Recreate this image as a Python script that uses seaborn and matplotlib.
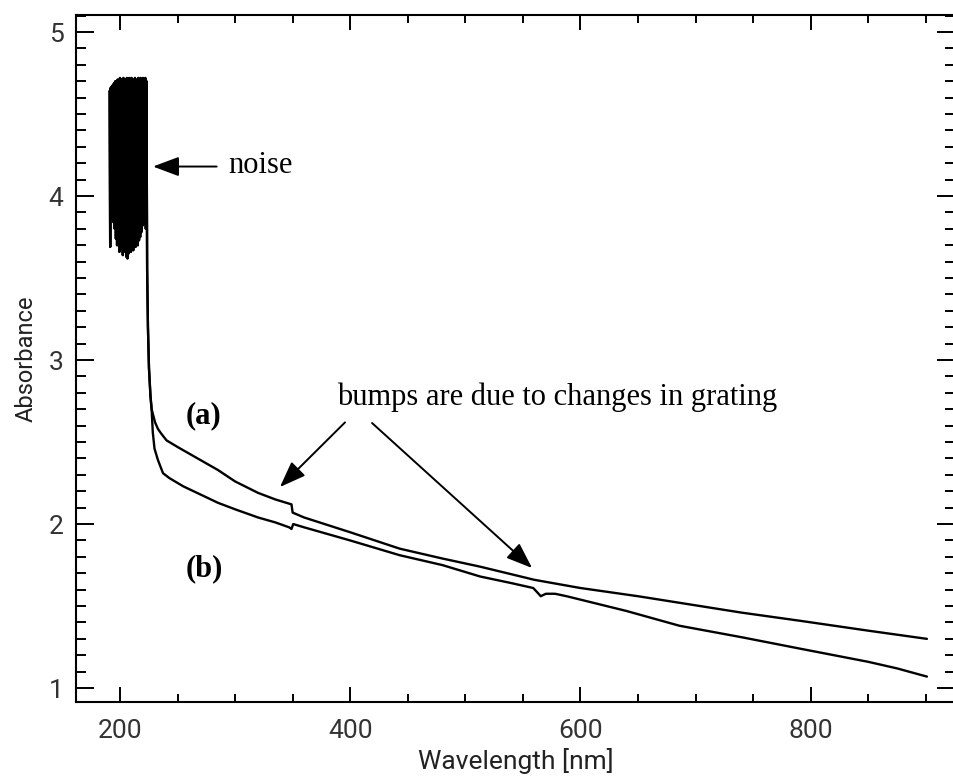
import numpy as np
import pandas as pd
import matplotlib
matplotlib.use("Agg")
import matplotlib.pyplot as plt
import seaborn as sns
from matplotlib.ticker import MultipleLocator, FixedLocator

# ---------------- data ----------------
noise_wl = [191.0, 191.5, 192.0, 192.5, 193.0, 193.5, 194.0, 194.5, 195.0, 195.5,
            196.0, 196.5, 197.0, 197.5, 198.0, 198.5, 199.0, 199.5, 200.0, 200.5,
            201.0, 201.5, 202.0, 202.5, 203.0, 203.5, 204.0, 204.5, 205.0, 205.5,
            206.0, 206.5, 207.0, 207.5, 208.0, 208.5, 209.0, 209.5, 210.0, 210.5,
            211.0, 211.5, 212.0, 212.5, 213.0, 213.5, 214.0, 214.5, 215.0, 215.5,
            216.0, 216.5, 217.0, 217.5, 218.0, 218.5, 219.0, 219.5, 220.0, 220.5,
            221.0, 221.5, 222.0, 222.5, 223.0]
noise_abs = [4.64, 3.69, 4.66, 3.88, 4.67, 3.86, 4.68, 3.84, 4.69, 3.80,
             4.70, 3.74, 4.70, 3.70, 4.71, 3.72, 4.70, 3.66, 4.72, 3.70,
             4.71, 3.68, 4.70, 3.64, 4.72, 3.69, 4.71, 3.66, 4.70, 3.63,
             4.72, 3.62, 4.71, 3.65, 4.72, 3.68, 4.70, 3.66, 4.72, 3.70,
             4.71, 3.67, 4.70, 3.71, 4.72, 3.69, 4.71, 3.72, 4.70, 3.70,
             4.72, 3.73, 4.71, 3.75, 4.72, 3.78, 4.70, 3.82, 4.72, 3.84,
             4.71, 3.83, 4.72, 3.80, 4.70]

drop_wl = [223.6, 224.3, 225.2, 226.5, 227.5]
drop_abs = [3.55, 3.20, 2.95, 2.78, 2.70]

a_wl = [229.0, 230.5, 233.0, 236.0, 240.5, 250.0, 260.0, 270.0, 285.0, 300.0,
        320.0, 335.0, 349.0, 350.0, 360.0, 400.0, 443.0, 480.0, 513.0, 560.0,
        600.0, 650.0, 686.0, 740.0, 791.0, 850.0, 901.0]
a_abs = [2.66, 2.62, 2.58, 2.55, 2.51, 2.47, 2.43, 2.39, 2.33, 2.26,
         2.19, 2.15, 2.12, 2.07, 2.04, 1.95, 1.85, 1.79, 1.74, 1.66,
         1.61, 1.56, 1.52, 1.46, 1.41, 1.35, 1.30]

b_wl = [228.5, 230.0, 233.0, 237.4, 243.0, 255.0, 270.0, 285.0, 300.0, 320.0,
        335.0, 347.0, 349.0, 350.5, 360.0, 400.0, 443.0, 480.0, 513.0, 540.0,
        559.0, 563.0, 565.5, 570.0, 578.0, 588.0, 640.0, 686.0, 740.0, 791.0,
        850.0, 875.0, 901.0]
b_abs = [2.56, 2.46, 2.39, 2.31, 2.28, 2.23, 2.18, 2.13, 2.09, 2.04,
         2.01, 1.98, 1.97, 2.00, 1.98, 1.90, 1.81, 1.75, 1.68, 1.64,
         1.61, 1.58, 1.56, 1.575, 1.575, 1.56, 1.47, 1.38, 1.31, 1.24,
         1.16, 1.12, 1.07]

x_major = [200, 400, 600, 800]
y_major = [1, 2, 3, 4, 5]

frames = []
for name, wl, ab in [("a", a_wl, a_abs), ("b", b_wl, b_abs)]:
    frames.append(pd.DataFrame({
        "wavelength": noise_wl + drop_wl + wl,
        "absorbance": noise_abs + drop_abs + ab,
        "curve": name,
    }))
df = pd.concat(frames, ignore_index=True)

# ---------------- style ----------------
sns.set_theme(style="ticks")
plt.rcParams["font.family"] = ["Roboto", "DejaVu Sans"]

W, H = 954, 778
fig = plt.figure(figsize=(W / 100, H / 100), dpi=100)
ax = fig.add_axes([76 / W, 1 - 702 / H, (955 - 76) / W, (702 - 15) / H])

sns.lineplot(data=df, x="wavelength", y="absorbance", units="curve",
             estimator=None, sort=False, color="black", lw=1.7, ax=ax)

ax.set_xlim(161.8, 925.4)
ax.set_ylim(0.915, 5.104)

ax.xaxis.set_major_locator(FixedLocator(x_major))
ax.xaxis.set_minor_locator(MultipleLocator(50))
ax.yaxis.set_major_locator(FixedLocator(y_major))
ax.yaxis.set_minor_locator(MultipleLocator(0.1))

for s in ax.spines.values():
    s.set_linewidth(1.5)
    s.set_color("black")

ax.tick_params(which="both", direction="in", top=True, right=True,
               color="black", width=1.4, labelcolor="#333333")
ax.tick_params(axis="x", which="major", length=10.5, labelsize=19, pad=12)
ax.tick_params(axis="x", which="minor", length=5.5)
ax.tick_params(axis="y", which="major", length=13, labelsize=19, pad=9)
ax.tick_params(axis="y", which="minor", length=7)

ax.set_xlabel("Wavelength [nm]", fontsize=19, color="#222222", labelpad=4)
ax.set_ylabel("Absorbance", fontsize=17, color="#222222", labelpad=8)

# ---------------- annotations ----------------
serif = ["Liberation Serif", "DejaVu Serif"]
arrow = dict(arrowstyle="-|>,head_length=1.6,head_width=0.6", color="black",
             lw=1.4, shrinkA=0, shrinkB=0, mutation_scale=10)

ax.annotate("", xy=(228.7, 4.18), xytext=(284.0, 4.18), arrowprops=arrow)
ax.text(293.8, 4.14, "noise", family=serif, fontsize=22, color="black",
        ha="left", va="baseline")

ax.text(388.5, 2.726, "bumps are due to changes in grating", family=serif,
        fontsize=22, color="black", ha="left", va="baseline")
ax.annotate("", xy=(339.0, 2.226), xytext=(395.5, 2.62), arrowprops=arrow)
ax.annotate("", xy=(558.0, 1.732), xytext=(419.0, 2.616), arrowprops=arrow)

ax.text(257.0, 2.663, "(a)", family=serif, fontsize=22, fontweight="bold",
        color="black", ha="left", va="center")
ax.text(257.0, 1.73, "(b)", family=serif, fontsize=22, fontweight="bold",
        color="black", ha="left", va="center")

fig.savefig("out.png", dpi=100, facecolor="white")
